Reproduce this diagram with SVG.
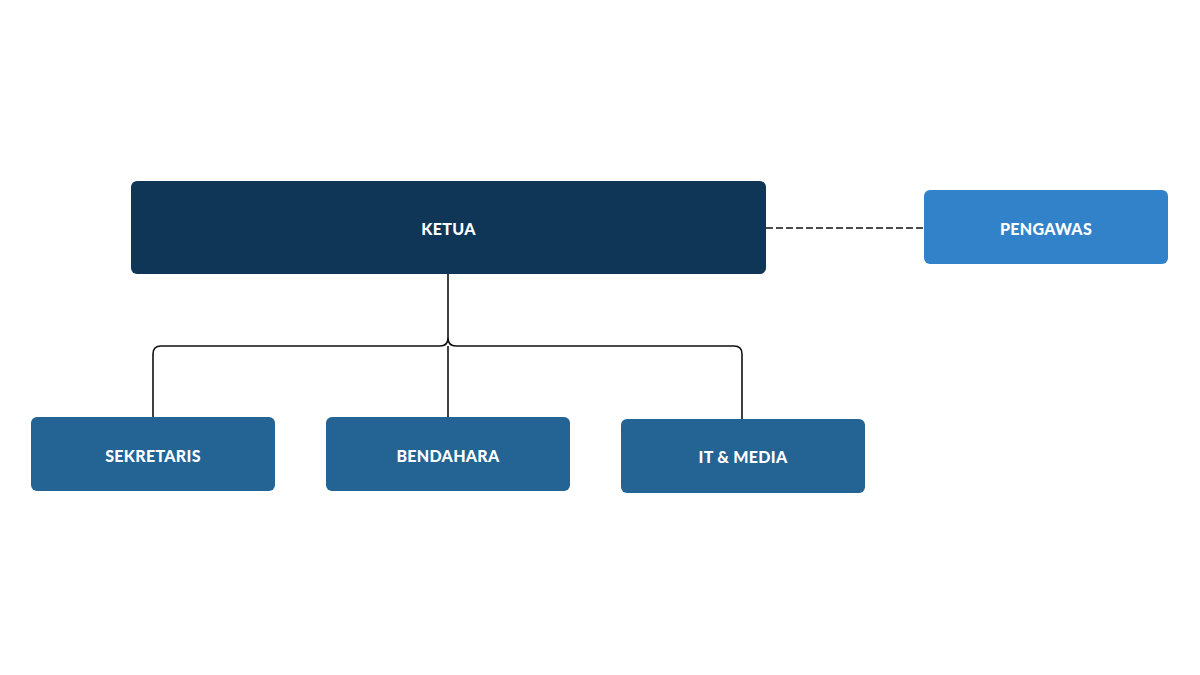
<svg xmlns="http://www.w3.org/2000/svg" width="1200" height="675" viewBox="0 0 1200 675">
<style>
.lbl{font-family:"Lato","Liberation Sans",sans-serif;font-weight:900;font-size:16px;fill:#ffffff;text-anchor:middle;dominant-baseline:central;letter-spacing:0.3px}
.conn{fill:none;stroke:#111111;stroke-width:1.6}
</style>
<rect width="1200" height="675" fill="#ffffff"/>
<g id="connectors">
<path class="conn" d="M448,274 V338 Q448,346 440,346 H161 Q153,346 153,354 V417"/>
<path class="conn" d="M448,338 Q448,346 456,346 H734 Q742,346 742,354 V419"/>
<path class="conn" d="M448,346 V417"/>
<path class="conn" d="M766,228 H924" stroke-dasharray="7,3"/>
</g>
<g id="ketua">
<rect x="131" y="181" width="635" height="93" rx="6" fill="#0f3557"/>
<text class="lbl" x="448.5" y="228">KETUA</text>
</g>
<g id="pengawas">
<rect x="924" y="190" width="244" height="74" rx="6" fill="#3182c8"/>
<text class="lbl" x="1046" y="228">PENGAWAS</text>
</g>
<g id="sekretaris">
<rect x="31" y="417" width="244" height="74" rx="6" fill="#236495"/>
<text class="lbl" x="153" y="455">SEKRETARIS</text>
</g>
<g id="bendahara">
<rect x="326" y="417" width="244" height="74" rx="6" fill="#236495"/>
<text class="lbl" x="448" y="455">BENDAHARA</text>
</g>
<g id="itmedia">
<rect x="621" y="419" width="244" height="74" rx="6" fill="#236495"/>
<text class="lbl" x="743" y="456">IT &amp; MEDIA</text>
</g>
</svg>
